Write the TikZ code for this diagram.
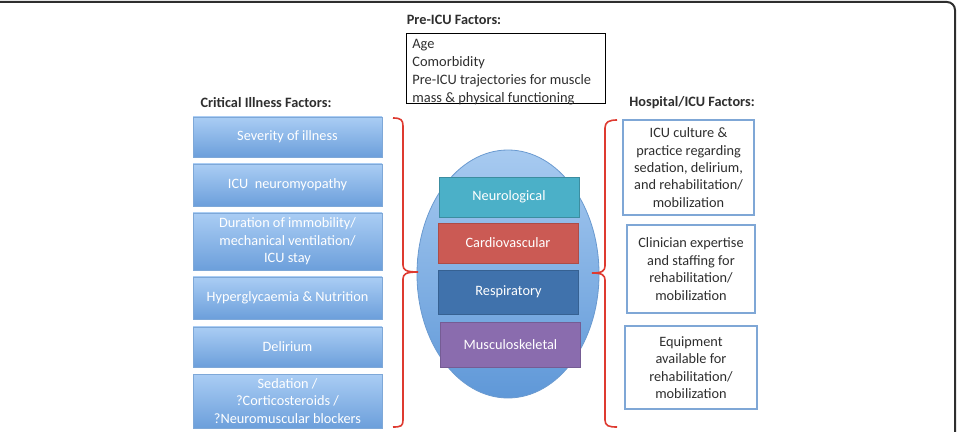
\documentclass[tikz,border=0pt]{standalone}
\usepackage{fontspec}
\setmainfont{Carlito}
\usepackage{tikz}
\usetikzlibrary{shapes.geometric}
\definecolor{factortop}{HTML}{AACDF4}
\definecolor{factorbot}{HTML}{6C9FDB}
\definecolor{factorline}{HTML}{7EA8D8}
\definecolor{hospline}{HTML}{7FA7D6}
\definecolor{darktext}{HTML}{2E2E2E}
\definecolor{bracered}{HTML}{DE3A30}
\definecolor{elltop}{HTML}{A7CAF0}
\definecolor{ellbot}{HTML}{5F98D8}
\definecolor{ellline}{HTML}{6A9AD0}
\definecolor{neuro}{HTML}{4BB0C8}
\definecolor{cardio}{HTML}{CB5A54}
\definecolor{resp}{HTML}{4072AC}
\definecolor{musc}{HTML}{8A6CAE}
\tikzstyle{factor} = [draw=factorline, top color=factortop, bottom color=factorbot, text=white, minimum width=94.5pt, align=center, inner sep=1pt]
\tikzstyle{system} = [rectangle, text=white, minimum width=70pt, align=center, inner sep=1pt]
\tikzstyle{hospital} = [draw=hospline, line width=0.6pt, fill=white, text=darktext, align=center, inner sep=1pt]
\tikzstyle{heading} = [text=darktext]
\tikzstyle{brace} = [draw=bracered, line width=0.8pt]

\begin{document}
\fontsize{7.15}{8.7}\selectfont
\begin{tikzpicture}[x=0.5pt, y=-0.5pt]
    \useasboundingbox (0,0) rectangle (957,432);
    \clip (0,0) rectangle (957,432);
    \draw [darktext, line width=1pt, rounded corners=4pt] (-20,2) rectangle (955,460);

    % Pre-ICU factors
    \node [heading] (preicuhead) at (454,20) {\bfseries Pre-ICU Factors:};
    \node [draw, line width=0.6pt, anchor=north west, minimum width=99.5pt, minimum height=35pt] (preicu) at (406,33) {};
    \node [anchor=north west, align=left, inner sep=0pt, text=darktext, font=\fontsize{7.2}{8.9}\selectfont] (preicutext) at (412,39)
        {Age\\Comorbidity\\Pre-ICU trajectories for muscle\\mass \& physical functioning};

    % Critical illness factors
    \node [heading] (crithead) at (266,103) {\bfseries Critical Illness Factors:};
    \node [factor, minimum height=20pt] (severity) at (287.5,137) {Severity of illness};
    \node [factor, minimum height=21pt] (neuromyo) at (287.5,185) {ICU\ \ neuromyopathy};
    \node [factor, minimum height=28.5pt] (duration) at (287.5,241.5) {Duration of immobility/\\mechanical ventilation/\\ICU stay};
    \node [factor, minimum height=21pt] (hyper) at (287.5,298) {Hyperglycaemia \& Nutrition};
    \node [factor, minimum height=20pt] (delirium) at (287.5,347) {Delirium};
    \node [factor, minimum height=27pt] (sedation) at (287.5,401) {Sedation /\\?Corticosteroids /\\?Neuromuscular blockers};

    % Organ systems
    \node [ellipse, draw=ellline, top color=elltop, bottom color=ellbot, minimum width=91pt, minimum height=124pt, inner sep=0pt] (body) at (508,274) {};
    \node [system, fill=neuro, draw=neuro!80!black, minimum height=20pt] (neurological) at (509,197) {Neurological};
    \node [system, fill=cardio, draw=cardio!85!black, minimum height=20pt] (cardiovascular) at (508,243) {Cardiovascular};
    \node [system, fill=resp, draw=resp!85!black, minimum height=22pt] (respiratory) at (508.5,292) {Respiratory};
    \node [system, fill=musc, draw=musc!85!black, minimum height=22.5pt] (musculo) at (510.5,344.5) {Musculoskeletal};

    % Braces
    \draw [brace] (393,118) .. controls (401,118) and (403,120) .. (403,126) -- (403,265)
        .. controls (403,270) and (406,272) .. (418,272)
        .. controls (406,272) and (403,274) .. (403,279) -- (403,420)
        .. controls (403,426) and (401,427) .. (393,427);
    \draw [brace] (617,120) .. controls (609,120) and (605,122) .. (605,128) -- (605,266)
        .. controls (605,271) and (602,273) .. (592,273)
        .. controls (602,273) and (605,275) .. (605,280) -- (605,420)
        .. controls (605,426) and (609,427) .. (617,427);

    % Hospital/ICU factors
    \node [heading] (hosphead) at (692,103) {\bfseries Hospital/ICU Factors:};
    \node [hospital, minimum width=65.5pt, minimum height=47.5pt] (culture) at (688.5,167.5)
        {ICU culture \&\\practice regarding\\sedation, delirium,\\and rehabilitation/\\mobilization};
    \node [hospital, minimum width=64pt, minimum height=44pt] (clinician) at (691,269)
        {Clinician expertise\\and staffing for\\rehabilitation/\\mobilization};
    \node [hospital, minimum width=66pt, minimum height=41.5pt] (equipment) at (691,367.5)
        {Equipment\\available for\\rehabilitation/\\mobilization};
\end{tikzpicture}
\end{document}
